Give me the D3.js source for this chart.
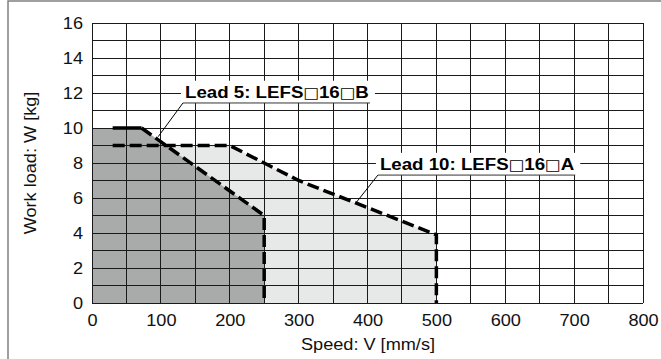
<!DOCTYPE html>
<html><head><meta charset="utf-8">
<script src="https://cdn.jsdelivr.net/npm/d3@7"></script>
<style>html,body{margin:0;padding:0;background:#fff;}svg{display:block;}</style>
</head><body>
<script>
// ---- data ----
const xTicks = [0, 100, 200, 300, 400, 500, 600, 700, 800];
const yTicks = [0, 2, 4, 6, 8, 10, 12, 14, 16];
const lead5Speed = [30, 72, 250, 250];
const lead5Load  = [10, 10, 5, 0];
const lead10Speed = [30, 200, 300, 500, 500];
const lead10Load  = [9, 9, 7, 3.9, 0];
const lead5Label = ["Lead 5: LEFS", "\u25A1", "16", "\u25A1", "B"];
const lead10Label = ["Lead 10: LEFS", "\u25A1", "16", "\u25A1", "A"];
const xTitle = "Speed: V [mm/s]";
const yTitle = "Work load: W [kg]";

const W = 661, H = 359;
const SX = 1.1;
const svg = d3.select("body").append("svg").attr("width", W).attr("height", H);
const x = d3.scaleLinear().domain([0, 800]).range([92, 643]);
const y = d3.scaleLinear().domain([0, 16]).range([303, 23]);
const font = "'Liberation Sans', Arial, Helvetica, sans-serif";

// outer frame
svg.append("rect").attr("x", 8).attr("y", 1).attr("width", 700).attr("height", 400)
  .attr("fill", "none").attr("stroke", "#808080").attr("stroke-width", 1.5);

// fills
function fillPts(sp, ld) {
  const pts = [[0, 0], [0, ld[0]]];
  sp.forEach((s, i) => pts.push([s, ld[i]]));
  return pts;
}
const area = d3.line().x(d => x(d[0])).y(d => y(d[1]));
svg.append("path").attr("d", area(fillPts(lead10Speed, lead10Load)) + "Z").attr("fill", "#e7e8e8");
svg.append("path").attr("d", area(fillPts(lead5Speed, lead5Load)) + "Z").attr("fill", "#a9aaaa");

// grid
const g = svg.append("g");
d3.range(0, 801, 50).forEach(v => g.append("line").attr("x1", x(v)).attr("x2", x(v))
  .attr("y1", y(0)).attr("y2", y(16)).attr("stroke", "#1a1a1a").attr("stroke-width", 1));
d3.range(0, 17, 1).forEach(v => g.append("line").attr("x1", x(0)).attr("x2", x(800))
  .attr("y1", y(v)).attr("y2", y(v)).attr("stroke", "#1a1a1a").attr("stroke-width", 1));
g.selectAll("line").attr("shape-rendering", "crispEdges");

// axes
const xAxis = svg.append("g").attr("transform", `translate(0,${y(0)})`)
  .call(d3.axisBottom(x).tickValues(xTicks).tickSize(0).tickPadding(11));
const yAxis = svg.append("g").attr("transform", `translate(${x(0)},0)`)
  .call(d3.axisLeft(y).tickValues(yTicks).tickSize(0).tickPadding(9));
[xAxis, yAxis].forEach(a => {
  a.select(".domain").remove();
  a.selectAll("text").attr("font-family", font).attr("font-size", 16.5).attr("fill", "#111");
});
xAxis.selectAll("text").attr("transform", `scale(${SX},1)`);
yAxis.selectAll("text").attr("x", 0).attr("transform", `translate(-9,0) scale(${SX},1)`);

// axis titles
svg.append("text").attr("transform", `translate(368,350) scale(${SX},1)`).attr("text-anchor", "middle")
  .attr("font-family", font).attr("font-size", 16.5).attr("fill", "#111").text(xTitle);
svg.append("text").attr("transform", `translate(36,${(y(0) + y(16)) / 2}) rotate(-90) scale(${SX},1)`)
  .attr("text-anchor", "middle").attr("font-family", font).attr("font-size", 16.5)
  .attr("fill", "#111").text(yTitle);

// lead lines
const line = d3.line().x(d => x(d[0])).y(d => y(d[1]));
const l5 = lead5Speed.map((s, i) => [s, lead5Load[i]]);
const l10 = lead10Speed.map((s, i) => [s, lead10Load[i]]);
svg.append("path").attr("d", line(l10)).attr("fill", "none").attr("stroke", "#000")
  .attr("stroke-width", 3.5).attr("stroke-dasharray", "12,5");
svg.append("path").attr("d", line(l5.slice(0, 2))).attr("fill", "none").attr("stroke", "#000")
  .attr("stroke-width", 3.5);
svg.append("path").attr("d", line(l5.slice(1))).attr("fill", "none").attr("stroke", "#000")
  .attr("stroke-width", 3.5).attr("stroke-dasharray", "12,5");

// annotations
function annot(parts, tx, ty, lx, ly) {
  const gA = svg.append("g");
  const bg = gA.append("rect").attr("fill", "#fff");
  const X0 = x(tx), Y0 = y(ty) - 5;
  const t = gA.append("text").attr("transform", `translate(${X0},${Y0}) scale(${SX},1)`)
    .attr("font-family", font).attr("font-size", 17).attr("font-weight", "bold").attr("fill", "#000");
  parts.forEach(p => {
    const ts = t.append("tspan").text(p);
    if (p === "\u25A1") ts.attr("font-family", "'DejaVu Sans'").attr("font-weight", "normal").attr("font-size", 15);
  });
  const bb = t.node().getBBox();
  const wdt = bb.width * SX;
  bg.attr("x", X0 - 4).attr("y", Y0 + bb.y - 2).attr("width", wdt + 10).attr("height", y(ty) - (Y0 + bb.y) + 2);
  gA.append("line").attr("x1", X0 - 2).attr("x2", X0 + wdt + 1)
    .attr("y1", y(ty)).attr("y2", y(ty)).attr("stroke", "#333").attr("stroke-width", 1);
  gA.append("line").attr("x1", X0 - 2).attr("y1", y(ty)).attr("x2", x(lx)).attr("y2", y(ly))
    .attr("stroke", "#000").attr("stroke-width", 1);
}
annot(lead5Label, 135, 11.43, 96, 9.5);
annot(lead10Label, 418, 7.31, 383, 5.71);
</script>
</body></html>
